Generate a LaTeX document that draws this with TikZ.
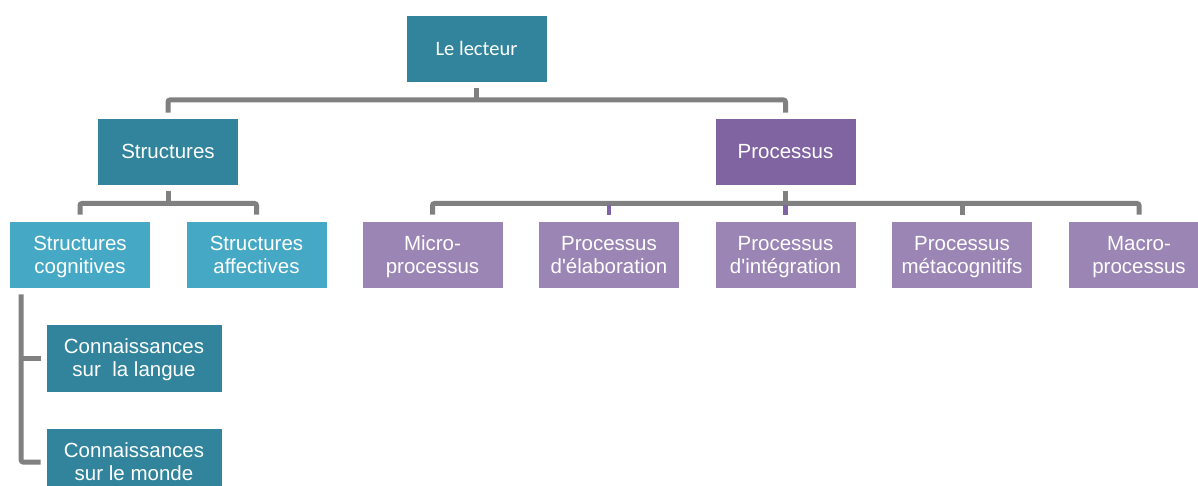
\documentclass[tikz,border=0pt]{standalone}
\usepackage{fontspec}
\setmainfont{Liberation Sans}[Ligatures=TeXOff]
\newfontfamily\calfont{Carlito}
\definecolor{tealdark}{HTML}{31849B}
\definecolor{teallight}{HTML}{45A8C5}
\definecolor{purpdark}{HTML}{8064A2}
\definecolor{purplight}{HTML}{9A85B5}
\definecolor{connc}{HTML}{808080}
\definecolor{stubp}{HTML}{8062A6}
\newcommand\capl[1]{\raisebox{0pt}[14.7pt][0pt]{#1}}
\begin{document}
\begin{tikzpicture}[x=1pt,y=-1pt,
  box/.style={rectangle, draw=white, line width=0.6pt, text=white, align=center,
    minimum width=141pt, minimum height=67pt, inner sep=0pt,
    font=\fontsize{20.5}{23}\selectfont},
  tdark/.style={box, fill=tealdark},
  tlight/.style={box, fill=teallight},
  pdark/.style={box, fill=purpdark},
  plight/.style={box, fill=purplight},
  conn/.style={draw=connc, line width=5pt, rounded corners=2pt},
  pstub/.style={draw=stubp, line width=4.5pt}]
\clip (0,0) rectangle (1198,486);
\fill[white] (0,0) rectangle (1198,486);
% level 0
\node[tdark, font=\calfont\fontsize{20.5}{23}\selectfont] (lecteur) at (476.5,48.5) {Le lecteur};
% level 1
\node[tdark] (structures) at (168,151.5) {\capl{Structures}};
\node[pdark] (processus) at (785.5,151.5) {\capl{Processus}};
% level 2
\node[tlight] (scog) at (80,254.5) {\capl{Structures}\\\capl{cognitives}};
\node[tlight] (saff) at (256.5,254.5) {\capl{Structures}\\\capl{affectives}};
\node[plight] (micro) at (432.5,254.5) {\capl{Micro-}\\\capl{processus}};
\node[plight] (elab) at (609,254.5) {\capl{Processus}\\\capl{d'élaboration}};
\node[plight] (integ) at (785.5,254.5) {\capl{Processus}\\\capl{d'intégration}};
\node[plight] (meta) at (962,254.5) {\capl{Processus}\\\capl{métacognitifs}};
\node[plight] (macro) at (1139,254.5) {\capl{Macro-}\\\capl{processus}};
% level 3
\node[tdark, minimum width=176pt, minimum height=68pt] (lang) at (134,358) {\capl{Connaissances}\\\capl{sur\ \ la langue}};
\node[tdark, minimum width=176pt, minimum height=68pt] (monde) at (134,462) {\capl{Connaissances}\\\capl{sur le monde}};
% connectors
\coordinate (b1) at (476.5,100);
\coordinate (b2) at (168,203.5);
\coordinate (b3) at (785.5,203.5);
\draw[conn] ([yshift=-6pt]lecteur.south) -- (b1);
\draw[conn] ([yshift=5pt]structures.north) |- (b1) -| ([yshift=5pt]processus.north);
\draw[conn] ([yshift=-6pt]structures.south) -- (b2);
\draw[conn] ([yshift=6pt]scog.north) |- (b2) -| ([yshift=6pt]saff.north);
\draw[conn] ([yshift=-6pt]processus.south) -- (b3);
\draw[conn] ([yshift=6pt]micro.north) |- (b3) -| ([yshift=6pt]macro.north);
\draw[conn] (meta.north |- b3) -- ([yshift=6pt]meta.north);
\draw[pstub] ([yshift=6pt]elab.north) -- ++(0,-9.5);
\draw[pstub] ([yshift=6pt]integ.north) -- ++(0,-9.5);
\coordinate (cx) at ([xshift=12pt,yshift=-6pt]scog.south west);
\draw[conn] (cx) |- ([xshift=-5pt]monde.west);
\draw[conn] (cx |- lang.west) -- ([xshift=-5pt]lang.west);
\end{tikzpicture}
\end{document}
